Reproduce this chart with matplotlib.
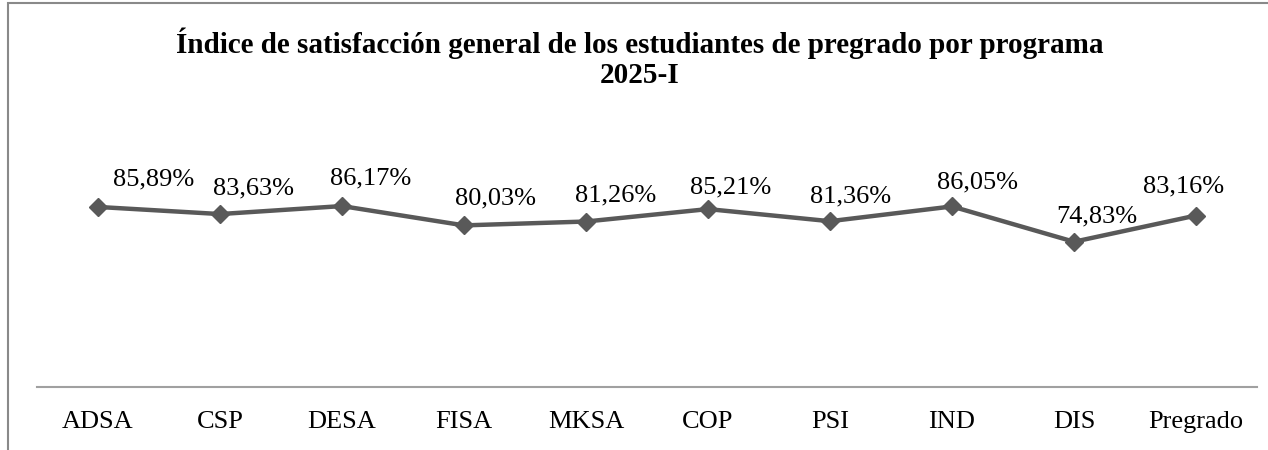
import matplotlib
matplotlib.use("Agg")
import matplotlib.pyplot as plt
from matplotlib.patches import Rectangle

categories = ["ADSA", "CSP", "DESA", "FISA", "MKSA", "COP", "PSI", "IND", "DIS", "Pregrado"]
values = [85.89, 83.63, 86.17, 80.03, 81.26, 85.21, 81.36, 86.05, 74.83, 83.16]
title = "Índice de satisfacción general de los estudiantes de pregrado por programa\n2025-I"

# label offsets in pixels (dx, dy) relative to each point
label_offsets = [(56, 27), (33, 26), (29, 28), (31, 27), (30, 26),
                 (23, 22), (21, 25), (25, 24), (23, 25), (-12, 29)]

plt.rcParams['font.family'] = ['Liberation Serif', 'DejaVu Serif']

W, H = 1268, 450
fig = plt.figure(figsize=(W / 100, H / 100), dpi=100)

# chart border (top and left visible, right/bottom cut off)
fig.patches.append(Rectangle((8 / W, -0.1), 1.2, (H - 3) / H + 0.1, transform=fig.transFigure,
                             fill=False, edgecolor="#898989", linewidth=1.5))

ax = fig.add_axes([37 / W, (H - 387) / H, 1220 / W, 227 / H])
x = list(range(len(categories)))
ax.plot(x, values, color="#595959", linewidth=3.2, marker="D", markersize=9.5,
        markerfacecolor="#595959", markeredgecolor="#595959", zorder=3)

for xi, v, (dx, dy) in zip(x, values, label_offsets):
    ax.annotate(f"{v:.2f}%".replace(".", ","), (xi, v), xytext=(dx, dy),
                textcoords="offset pixels", ha="center", va="center",
                fontsize=19, color="black")

ax.set_xlim(-0.5, len(categories) - 0.5)
ax.set_ylim(28.7, 100.8)
ax.set_xticks(x)
ax.set_xticklabels(categories, fontsize=19)
ax.tick_params(axis="x", length=0, pad=17)
ax.set_yticks([])
for s in ["top", "right", "left"]:
    ax.spines[s].set_visible(False)
ax.spines["bottom"].set_color("#a0a0a0")
ax.spines["bottom"].set_linewidth(1.5)

fig.text(639.5 / W, 1 - 58.5 / H, title, ha="center", va="center", fontsize=21,
         fontweight="bold", linespacing=1.15)

fig.savefig("out.png", dpi=100)
